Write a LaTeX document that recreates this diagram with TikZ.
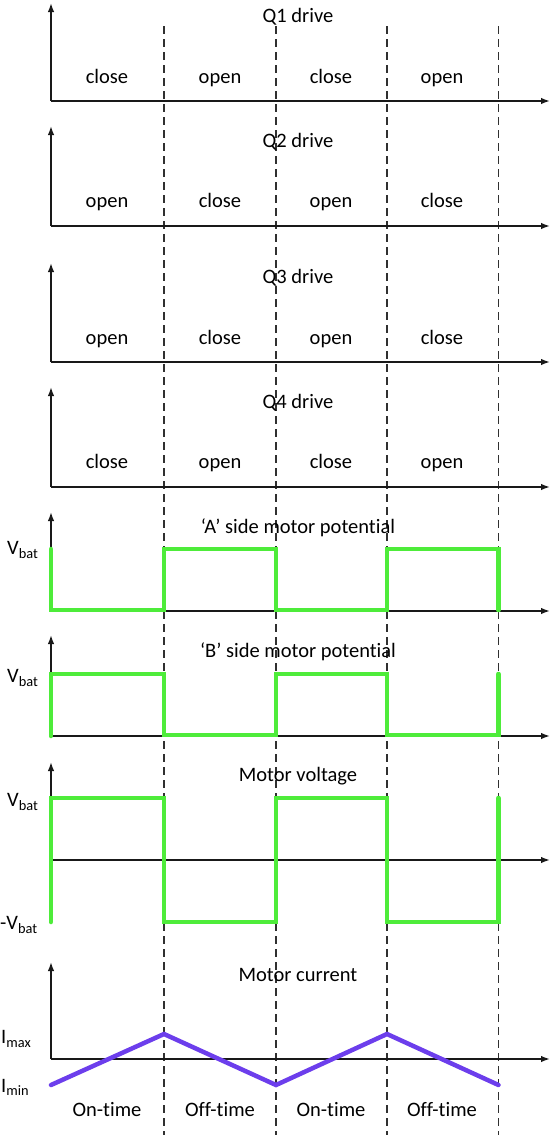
\documentclass[tikz,border=0pt]{standalone}
\usepackage{fontspec}
\setmainfont[Ligatures=NoCommon]{Carlito}
\usetikzlibrary{arrows.meta}
\definecolor{sig}{RGB}{78,236,58}
\definecolor{cur}{RGB}{108,62,236}
\definecolor{axc}{RGB}{25,25,25}
\begin{document}
\begin{tikzpicture}[x=1pt,y=-1pt,
  axis/.style={draw=axc,line width=1.6pt,-{Latex[length=9pt,width=6.5pt]}},
  divline/.style={draw=axc!90,line width=1.4pt,dash pattern=on 8pt off 5pt},
  wave/.style={draw=sig,line width=4.5pt,line join=miter,line cap=round},
  iwave/.style={draw=cur,line width=4.5pt,line cap=round},
  lbl/.style={font=\fontsize{20.5}{24}\selectfont,inner sep=0pt,anchor=base},
  ttl/.style={font=\fontsize{20.5}{24}\selectfont,inner sep=0pt,anchor=base},
  vlab/.style={font=\fontsize{20.5}{24}\selectfont,inner sep=0pt,anchor=west}]
\useasboundingbox (0,0) rectangle (550,1135);
% dashed dividers
\foreach \n/\x in {d1/164,d2/276,d3/387,d4/498.5}{
  \coordinate (\n t) at (\x,26);
  \coordinate (\n b) at (\x,1135);
  \draw[divline] (\n t) -- (\n b);
}
% axes (origin, top, right)
\foreach \n/\yo/\yt in {p1/101/3,p2/226/126,p3/362/263,p4/487/387,p5/611/512,p6/736/635,p8/1059/962}{
  \coordinate (\n o) at (51,\yo);
  \coordinate (\n t) at (51,\yt);
  \coordinate (\n r) at (550,\yo);
  \draw[axis] (\n o) -- (\n t);
  \draw[axis] (\n o) -- (\n r);
}
% motor voltage axes
\coordinate (p7b) at (51,922);
\coordinate (p7t) at (51,762);
\coordinate (p7m) at (51,860);
\coordinate (p7r) at (550,860);
\draw[axis] (p7b) -- (p7t);
\draw[axis] (p7m) -- (p7r);
% titles
\node[ttl] (t1) at (298,22) {Q1 drive};
\node[ttl] (t2) at (298,147) {Q2 drive};
\node[ttl] (t3) at (298,283) {Q3 drive};
\node[ttl] (t4) at (298,408) {Q4 drive};
\node[ttl] (t5) at (298,533) {‘A’ side motor potential};
\node[ttl] (t6) at (298,657) {‘B’ side motor potential};
\node[ttl] (t7) at (298,781) {Motor voltage};
\node[ttl] (t8) at (298,981) {Motor current};
% state labels
\foreach \r/\y/\a/\b in {1/83/close/open,2/207/open/close,3/344/open/close,4/468/close/open}{
  \node[lbl] (s\r a) at (107,\y) {\a};
  \node[lbl] (s\r b) at (220,\y) {\b};
  \node[lbl] (s\r c) at (331,\y) {\a};
  \node[lbl] (s\r d) at (442,\y) {\b};
}
\node[lbl] (on1) at (107,1116) {On-time};
\node[lbl] (off1) at (220,1116) {Off-time};
\node[lbl] (on2) at (331,1116) {On-time};
\node[lbl] (off2) at (442,1116) {Off-time};
% level labels
\node[vlab] (va) at (7,550) {V\textsubscript{bat}};
\node[vlab] (vb) at (7,678) {V\textsubscript{bat}};
\node[vlab] (vm) at (7,802) {V\textsubscript{bat}};
\node[vlab] (vn) at (0,925) {-V\textsubscript{bat}};
\node[vlab] (imax) at (1,1039) {I\textsubscript{max}};
\node[vlab] (imin) at (1,1087) {I\textsubscript{min}};
% waveforms
\draw[wave] (51,549) -- (51,610) -- (164,610) -- (164,549) -- (276,549) -- (276,610)
  -- (387,610) -- (387,549) -- (498.5,549) -- (498.5,610);
\draw[wave] (51,736) -- (51,674) -- (164,674) -- (164,735) -- (276,735) -- (276,674)
  -- (387,674) -- (387,735) -- (498.5,735) -- (498.5,674);
\draw[wave] (51,922) -- (51,798) -- (164,798) -- (164,922) -- (276,922) -- (276,798)
  -- (387,798) -- (387,922) -- (498.5,922) -- (498.5,798);
\draw[iwave] (51,1085) -- (164,1034) -- (276,1085) -- (387,1034) -- (498.5,1085);
\end{tikzpicture}
\end{document}
